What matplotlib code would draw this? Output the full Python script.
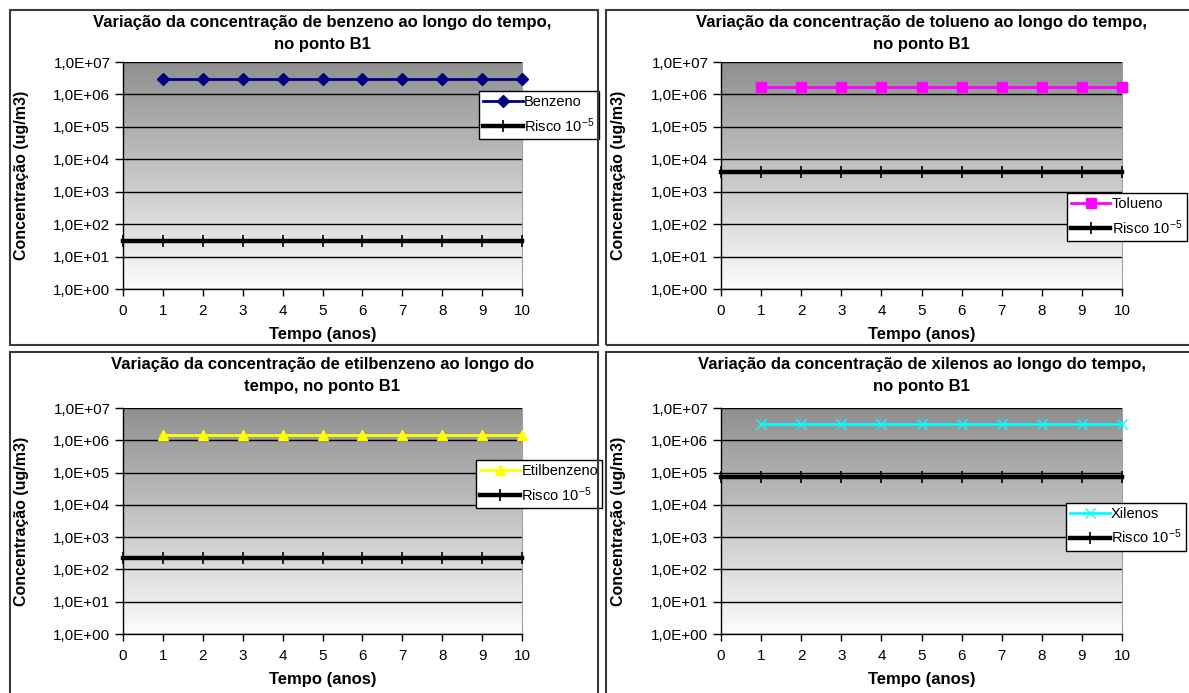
import numpy as np
import matplotlib
matplotlib.use("Agg")
import matplotlib.pyplot as plt
from matplotlib.patches import Rectangle
from matplotlib.ticker import FixedLocator, FuncFormatter, NullLocator

plt.rcParams['font.family'] = ['Liberation Sans', 'DejaVu Sans']
plt.rcParams['mathtext.fontset'] = 'custom'
plt.rcParams['mathtext.rm'] = 'Liberation Sans'
plt.rcParams['mathtext.it'] = 'Liberation Sans:italic'
plt.rcParams['mathtext.bf'] = 'Liberation Sans:bold'

# Dados (concentração em ug/m3)
anos = [1, 2, 3, 4, 5, 6, 7, 8, 9, 10]
anos_risco = [0, 1, 2, 3, 4, 5, 6, 7, 8, 9, 10]

benzeno = [3.0e6, 3.0e6, 3.0e6, 3.0e6, 3.0e6, 3.0e6, 3.0e6, 3.0e6, 3.0e6, 3.0e6]
tolueno = [1.7e6, 1.7e6, 1.7e6, 1.7e6, 1.7e6, 1.7e6, 1.7e6, 1.7e6, 1.7e6, 1.7e6]
etilbenzeno = [1.5e6, 1.5e6, 1.5e6, 1.5e6, 1.5e6, 1.5e6, 1.5e6, 1.5e6, 1.5e6, 1.5e6]
xilenos = [3.3e6, 3.3e6, 3.3e6, 3.3e6, 3.3e6, 3.3e6, 3.3e6, 3.3e6, 3.3e6, 3.3e6]

risco_benzeno = [30, 30, 30, 30, 30, 30, 30, 30, 30, 30, 30]
risco_tolueno = [4000, 4000, 4000, 4000, 4000, 4000, 4000, 4000, 4000, 4000, 4000]
risco_etilbenzeno = [220, 220, 220, 220, 220, 220, 220, 220, 220, 220, 220]
risco_xilenos = [7.2e4, 7.2e4, 7.2e4, 7.2e4, 7.2e4, 7.2e4, 7.2e4, 7.2e4, 7.2e4, 7.2e4, 7.2e4]

ticks_y = [1e0, 1e1, 1e2, 1e3, 1e4, 1e5, 1e6, 1e7]
ticks_x = [0, 1, 2, 3, 4, 5, 6, 7, 8, 9, 10]

W, H = 1189, 693
fig = plt.figure(figsize=(W / 100, H / 100), dpi=100)

# fundo em degradê (cinza em cima, branco embaixo)
grad = np.linspace(0.99, 0.56, 256).reshape(-1, 1)
grad = np.dstack([grad, grad, grad])


def formato_excel(v, pos):
    exp = int(round(np.log10(v)))
    return "1,0E+%02d" % exp


def painel(caixa, moldura, titulo, nome, valores, cor, marcador, msize, risco, leg_pos):
    fx0, fy0, fx1, fy1 = moldura
    fig.patches.append(Rectangle((fx0 / W, 1 - fy1 / H), (fx1 - fx0) / W, (fy1 - fy0) / H,
                                 transform=fig.transFigure, fill=False,
                                 edgecolor='#3a3a3a', linewidth=1.5, zorder=0))
    x0, y0, x1, y1 = caixa
    ax = fig.add_axes([x0 / W, 1 - y1 / H, (x1 - x0) / W, (y1 - y0) / H])
    ax.imshow(grad, extent=[0, 1, 0, 1], transform=ax.transAxes, aspect='auto',
              zorder=0, origin='lower')
    ax.set_yscale('log')
    ax.set_xlim(0, 10)
    ax.set_ylim(1, 1e7)

    ax.yaxis.set_major_locator(FixedLocator(ticks_y))
    ax.yaxis.set_minor_locator(NullLocator())
    ax.yaxis.set_major_formatter(FuncFormatter(formato_excel))
    ax.xaxis.set_major_locator(FixedLocator(ticks_x))
    ax.grid(axis='y', color='black', linewidth=1.0, zorder=1)
    ax.set_axisbelow(True)

    ax.plot(anos_risco, risco, color='black', linewidth=3.2, marker='|',
            markersize=9, markeredgewidth=1.2, label='Risco 10$^{-5}$', zorder=3,
            clip_on=False)
    ax.plot(anos, valores, color=cor, linewidth=2, marker=marcador, markersize=msize,
            markeredgecolor=cor, markerfacecolor=cor, label=nome, zorder=4, clip_on=False)

    for s in ['left', 'bottom']:
        ax.spines[s].set_color('black')
        ax.spines[s].set_linewidth(1.0)
    ax.spines['right'].set_color('#a0a0a0')
    ax.spines['top'].set_visible(False)

    ax.tick_params(axis='y', direction='out', length=6, width=1, labelsize=11, pad=3)
    ax.tick_params(axis='x', direction='out', length=5, width=1, labelsize=11, pad=6)

    ax.set_xlabel('Tempo (anos)', fontsize=12, fontweight='bold', labelpad=6)
    ax.set_ylabel('Concentração (ug/m3)', fontsize=11.5, fontweight='bold')
    ax.yaxis.set_label_coords(-0.236, 0.5)

    cx = (x0 + x1) / 2 / W
    dy = (fy0 - 10) / H
    fig.text(cx, 1 - 23 / H - dy, titulo[0], ha='center', va='center',
             fontsize=12, fontweight='bold')
    fig.text(cx, 1 - 44 / H - dy, titulo[1], ha='center', va='center',
             fontsize=12, fontweight='bold')

    h, l = ax.get_legend_handles_labels()
    leg = ax.legend(h[::-1], l[::-1], loc='upper left', bbox_to_anchor=leg_pos,
                    fontsize=10.5, frameon=True, fancybox=False, edgecolor='black',
                    framealpha=1, handlelength=2.7, handletextpad=0.1,
                    borderpad=0.3, labelspacing=0.45, borderaxespad=0)
    leg.get_frame().set_linewidth(1.0)
    leg.set_zorder(10)
    return ax


painel((123, 62, 522, 289), (10, 10, 598, 345),
       ('Variação da concentração de benzeno ao longo do tempo,', 'no ponto B1'),
       'Benzeno', benzeno, '#000080', 'D', 6, risco_benzeno, (0.892, 0.872))

painel((721, 62, 1122, 289), (606, 10, 1200, 345),
       ('Variação da concentração de tolueno ao longo do tempo,', 'no ponto B1'),
       'Tolueno', tolueno, '#ff00ff', 's', 6.5, risco_tolueno, (0.862, 0.423))

painel((123, 408, 522, 634), (10, 352, 598, 700),
       ('Variação da concentração de etilbenzeno ao longo do', 'tempo, no ponto B1'),
       'Etilbenzeno', etilbenzeno, '#ffff00', '^', 7, risco_etilbenzeno, (0.885, 0.77))

painel((721, 408, 1122, 634), (606, 352, 1200, 700),
       ('Variação da concentração de xilenos ao longo do tempo,', 'no ponto B1'),
       'Xilenos', xilenos, '#00ffff', 'x', 7, risco_xilenos, (0.86, 0.58))

fig.savefig('out.png', dpi=100)
